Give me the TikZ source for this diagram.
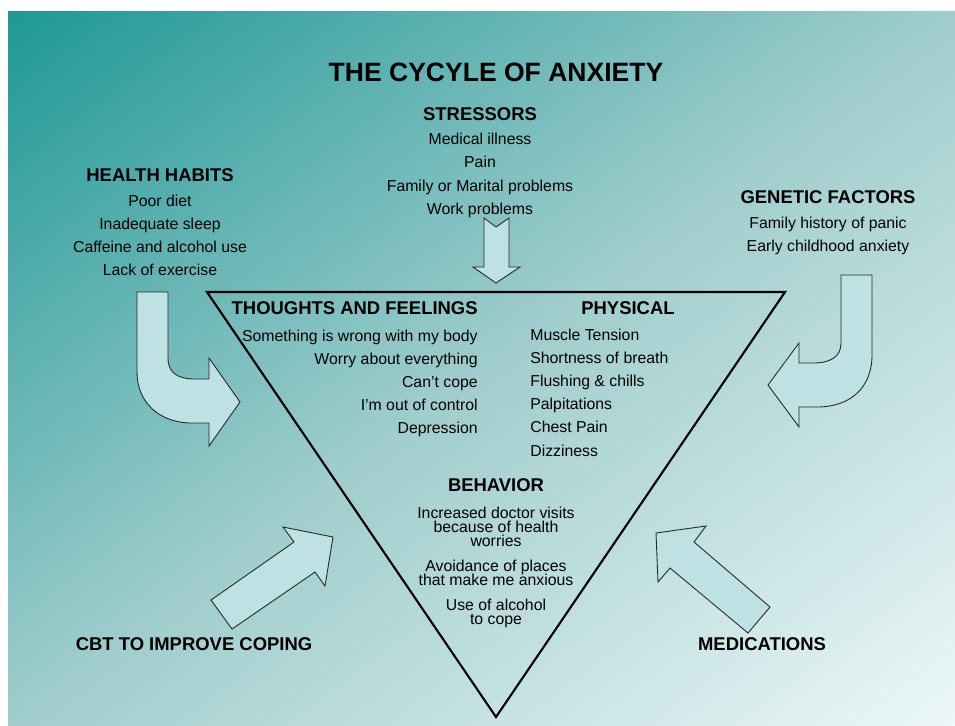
\documentclass[tikz,border=0pt]{standalone}
\usepackage{fontspec}
\setmainfont{Liberation Sans}
\usetikzlibrary{positioning,shadings}

\definecolor{tealdark}{RGB}{30,152,150}
\definecolor{tealmid}{RGB}{160,205,205}
\definecolor{tealpale}{RGB}{236,247,247}
\definecolor{arrowfill}{RGB}{190,225,228}

\newcommand{\tightfont}{\fontsize{9}{8}\selectfont\lineskiplimit=-20pt\relax}

\begin{document}
\begin{tikzpicture}[x=0.02cm,y=-0.02cm,
  titletext/.style={font=\fontsize{15.1}{18}\selectfont\bfseries,inner sep=0pt},
  headtext/.style={font=\fontsize{10.5}{12}\selectfont\bfseries,inner sep=0pt},
  listtext/.style={font=\fontsize{9}{13.2}\selectfont,inner sep=0pt,align=center},
  tightlist/.style={font=\tightfont,inner sep=0pt,align=center},
  bigarrow/.style={fill=arrowfill,draw=black!85,line width=0.5pt},
  triline/.style={line width=1.2pt}
  ]

  % page and background
  \useasboundingbox (0,0) rectangle (955,725);
  \fill[white] (0,0) rectangle (955,725);
  \coordinate (mid) at (481.5,368);
  \begin{scope}
    \clip (8,11) rectangle (955,725);
    \shade[transform canvas={rotate around={37:(mid)}},
      top color=tealdark,bottom color=tealpale,middle color=tealmid]
      (-168.5,-202) rectangle (1131.5,938);
  \end{scope}

  % the triangle
  \coordinate (tl) at (207,292);
  \coordinate (tr) at (785,292);
  \coordinate (bot) at (496,717);
  \draw[triline] (tl) -- (tr) -- (bot) -- cycle;

  % block arrows
  \draw[bigarrow] (484,218) -- (496,227) -- (509,218) -- (509,267) -- (520,267)
    -- (496,283) -- (473,267) -- (484,267) -- cycle;
  \draw[bigarrow] (137,292) -- (168,292) -- (168,358)
    .. controls (168,373) and (178,379) .. (195,379) -- (209,379) -- (209,358)
    -- (240,402) -- (209,446) -- (209,423) -- (192,423)
    .. controls (160,423) and (137,403) .. (137,372) -- cycle;
  \draw[bigarrow] (841,275) -- (872,275) -- (872,355)
    .. controls (872,388) and (850,407) .. (817,407) -- (799,407) -- (799,427)
    -- (768,385) -- (799,343) -- (799,363) -- (813,363)
    .. controls (830,363) and (841,357) .. (841,343) -- cycle;
  \draw[bigarrow] (211,600) -- (294,542) -- (283,527) -- (333,537) -- (325,586)
    -- (315,572) -- (232,629) -- cycle;
  \draw[bigarrow] (770,607) -- (694,542) -- (706,526) -- (656,533) -- (658,582)
    -- (670,568) -- (748,633) -- cycle;

  % texts
  \node[titletext] (title) at (496,72) {THE CYCYLE OF ANXIETY};

  \node[headtext] (stress) at (480,114) {STRESSORS};
  \node[listtext,font=\fontsize{9}{13.3}\selectfont] (stresslist) at (480,175.5)
    {Medical illness\\Pain\\Family or Marital problems\\Work problems};

  \node[headtext] (habits) at (160,175) {HEALTH HABITS};
  \node[listtext] (habitlist) at (160,235.5)
    {Poor diet\\Inadequate sleep\\Caffeine and alcohol use\\Lack of exercise};

  \node[headtext] (genetic) at (828,197) {GENETIC FACTORS};
  \node[listtext] (geneticlist) at (828,235.5)
    {Family history of panic\\Early childhood anxiety};

  \node[headtext,anchor=east] (thoughts) at (478,308) {THOUGHTS AND FEELINGS};
  \node[listtext,align=right,anchor=east] (thoughtlist) at (478,383.5)
    {Something is wrong with my body\\Worry about everything\\Can’t cope\\I’m out of control\\Depression};

  \node[headtext] (physical) at (628,308) {PHYSICAL};
  \node[listtext,align=left,anchor=west] (physlist) at (530,392.5)
    {Muscle Tension\\Shortness of breath\\Flushing \& chills\\Palpitations\\Chest Pain\\Dizziness};

  \node[headtext] (behavior) at (496,485) {BEHAVIOR};
  \node[tightlist] (behavlist) at (496,567)
    {Increased doctor visits\\because of health\\worries\\[6.2pt]Avoidance of places\\that make me anxious\\[6.2pt]Use of alcohol\\to cope};

  \node[headtext] (cbt) at (194,644) {CBT TO IMPROVE COPING};
  \node[headtext] (meds) at (762,644) {MEDICATIONS};
\end{tikzpicture}
\end{document}
